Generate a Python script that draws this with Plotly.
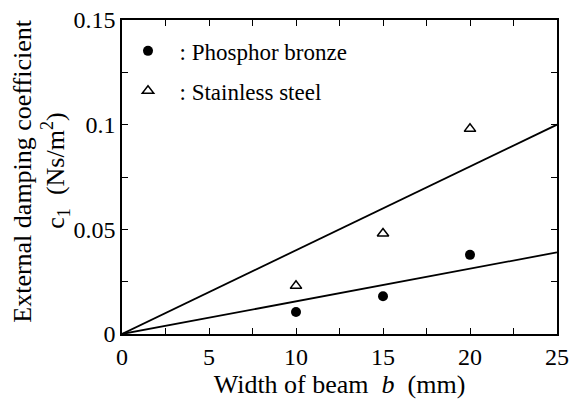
import plotly.graph_objects as go

# Data
width_mm = [10, 15, 20]
bronze_c1 = [0.0105, 0.018, 0.0378]
steel_c1 = [0.023, 0.048, 0.098]

fit_x = [0, 25]
bronze_fit = [0, 0.039]
steel_fit = [0, 0.1]

x_ticks = [0, 5, 10, 15, 20, 25]
x_ticklabels = ["0", "5", "10", "15", "20", "25"]
y_ticks = [0, 0.05, 0.1, 0.15]
y_ticklabels = ["0", "0.05", "0.1", "0.15"]

FONT = "Liberation Serif"

fig = go.Figure()
fig.add_trace(go.Scatter(x=fit_x, y=steel_fit, mode="lines",
                         line=dict(color="black", width=1.8), showlegend=False, hoverinfo="skip"))
fig.add_trace(go.Scatter(x=fit_x, y=bronze_fit, mode="lines",
                         line=dict(color="black", width=1.8), showlegend=False, hoverinfo="skip"))
fig.add_trace(go.Scatter(x=width_mm, y=bronze_c1, mode="markers", name="\u00a0\u00a0: Phosphor bronze",
                         legendgroup="a",
                         marker=dict(symbol="circle", size=10, color="black")))
fig.add_trace(go.Scatter(x=width_mm, y=steel_c1, mode="markers", name="\u00a0\u00a0: Stainless steel",
                         legendgroup="b",
                         marker=dict(symbol="triangle-up-open", size=10, color="black",
                                     line=dict(width=1.5, color="black"))))

fig.update_layout(
    width=570, height=408,
    margin=dict(l=122, r=13, t=20, b=74),
    paper_bgcolor="white", plot_bgcolor="white",
    font=dict(family=FONT, color="black", size=24),
    legend=dict(x=0.0138, y=0.970, xanchor="left", yanchor="top", bgcolor="rgba(0,0,0,0)",
                font=dict(family=FONT, size=23, color="black"), traceorder="grouped",
                tracegroupgap=7, itemwidth=30),
    annotations=[
        dict(text="External damping coefficient", xref="paper", yref="paper",
             x=0, y=0.52, xshift=-99, xanchor="center", yanchor="middle",
             textangle=-90, showarrow=False, font=dict(family=FONT, size=26, color="black")),
        dict(text="c<sub>1</sub>\u00a0 (Ns/m<sup>2</sup>)", xref="paper", yref="paper",
             x=0, y=0.52, xshift=-67, xanchor="center", yanchor="middle",
             textangle=-90, showarrow=False, font=dict(family=FONT, size=26, color="black")),
    ],
)

fig.update_xaxes(
    range=[0, 25], tickmode="array", tickvals=x_ticks, ticktext=x_ticklabels,
    showline=True, linecolor="black", linewidth=1.5, mirror="ticks",
    ticks="inside", ticklen=6, tickwidth=1.2, tickcolor="black",
    showgrid=False, zeroline=False, automargin=False,
    tickfont=dict(family=FONT, size=24, color="black"),
    minor=dict(dtick=2.5, ticks="inside", ticklen=6, tickcolor="black", tickwidth=1.2),
    title=dict(text="Width of beam  <i>b</i>  (mm)", font=dict(family=FONT, size=26, color="black"),
               standoff=4),
)
fig.update_yaxes(
    range=[0, 0.15], tickmode="array", tickvals=y_ticks, ticktext=y_ticklabels,
    showline=True, linecolor="black", linewidth=1.5, mirror="ticks",
    ticks="inside", ticklen=6, tickwidth=1.2, tickcolor="black",
    showgrid=False, zeroline=False, automargin=False,
    tickfont=dict(family=FONT, size=24, color="black"),
    minor=dict(dtick=0.025, ticks="inside", ticklen=6, tickcolor="black", tickwidth=1.2),
)

fig.write_html("out.html")
